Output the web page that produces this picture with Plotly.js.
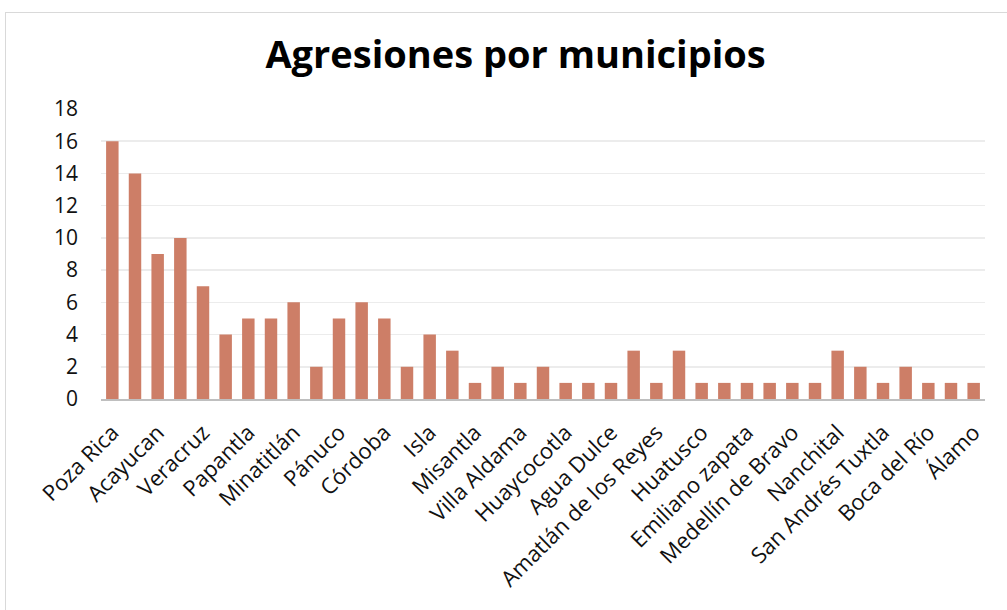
<!DOCTYPE html>
<html>
<head>
<meta charset="utf-8">
<script src="https://cdn.plot.ly/plotly-3.0.1.min.js"></script>
<style>
  html, body { margin: 0; padding: 0; background: #fff; }
  #wrap { position: relative; width: 1007px; height: 610px; overflow: hidden; }
  #frame { position: absolute; left: 5px; top: 12px; width: 1010px; height: 620px;
           border: 1px solid #d9d9d9; box-sizing: border-box; }
  #chart { position: absolute; left: 0; top: 0; width: 1007px; height: 610px; }
</style>
</head>
<body>
<div id="wrap">
  <div id="frame"></div>
  <div id="chart"></div>
</div>
<script>
  /* Agresiones por municipio — 39 barras, solo se rotula una de cada dos */
  const values = [16, 14, 9, 10, 7, 4, 5, 5, 6, 2, 5, 6, 5, 2, 4, 3, 1, 2, 1, 2,
                  1, 1, 1, 3, 1, 3, 1, 1, 1, 1, 1, 1, 3, 2, 1, 2, 1, 1, 1];
  const labels = ['Poza Rica', 'Acayucan', 'Veracruz', 'Papantla', 'Minatitlán',
                  'Pánuco', 'Córdoba', 'Isla', 'Misantla', 'Villa Aldama',
                  'Huaycocotla', 'Agua Dulce', 'Amatlán de los Reyes', 'Huatusco',
                  'Emiliano zapata', 'Medellín de Bravo', 'Nanchital',
                  'San Andrés Tuxtla', 'Boca del Río', 'Álamo'];
  const yTicks = [0, 2, 4, 6, 8, 10, 12, 14, 16, 18];

  const xIdx = values.map((_, i) => i);
  const labelPos = labels.map((_, i) => i * 2);

  const trace = {
    x: xIdx, y: values, type: 'bar',
    marker: { color: '#cd7e67' },
    hoverinfo: 'y'
  };

  const layout = {
    width: 1007, height: 610,
    paper_bgcolor: 'rgba(0,0,0,0)',
    plot_bgcolor: 'rgba(0,0,0,0)',
    margin: { t: 109, r: 22, b: 211, l: 101 },
    font: { family: 'Open Sans, sans-serif', color: '#000', size: 18 },
    title: {
      text: '<b>Agresiones por municipios</b>',
      font: { size: 38, color: '#000' },
      x: 0.512, xanchor: 'center', y: 0.91, yanchor: 'middle'
    },
    bargap: 0.45,
    showlegend: false,
    xaxis: {
      range: [-0.5, values.length - 0.5],
      tickmode: 'array', tickvals: labelPos, ticktext: labels,
      tickangle: -45, tickfont: { size: 22, color: '#111' },
      showgrid: false, zeroline: false,
      showline: true, linecolor: '#bfbfbf', linewidth: 2,
      ticks: '', ticklabelstandoff: 10
    },
    yaxis: {
      range: [0, 18],
      tickmode: 'array', tickvals: yTicks,
      tickfont: { size: 21, color: '#111' },
      gridcolor: '#ececec', gridwidth: 1.5,
      zeroline: false, showline: false, ticks: '',
      ticklabelstandoff: 22
    }
  };

  Plotly.newPlot('chart', [trace], layout, { displayModeBar: false, staticPlot: true });
</script>
</body>
</html>
